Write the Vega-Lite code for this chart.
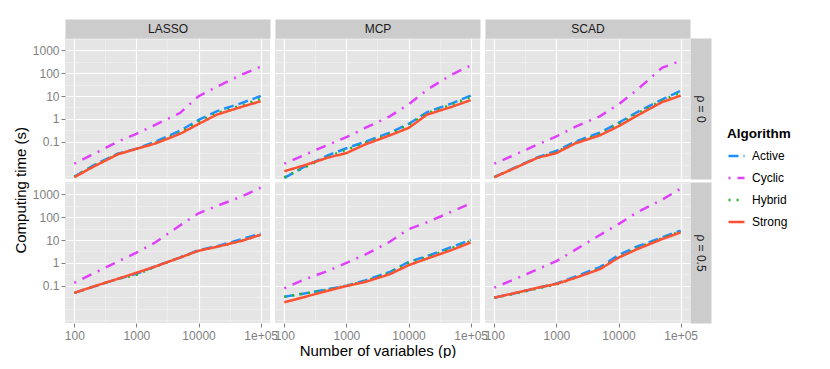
{
  "$schema": "https://vega.github.io/schema/vega-lite/v6.json",
  "padding": {"left": 14, "top": 22, "right": 0, "bottom": 0},
  "config": {
    "font": "Liberation Sans",
    "view": {"fill": "#E5E5E5", "stroke": null},
    "axis": {"labelFont": "Liberation Sans", "titleFont": "Liberation Sans"},
    "legend": {"labelFont": "Liberation Sans", "titleFont": "Liberation Sans"}
  },
  "title": {"text": "Computing time (s)", "orient": "left", "anchor": "middle", "fontSize": 15, "fontWeight": "normal", "color": "#000000", "offset": 3, "font": "Liberation Sans"},
  "datasets": {
    "d": [
      {"m":"LASSO","r":"0","a":"Active","p":100,"t":0.003},{"m":"LASSO","r":"0","a":"Active","p":200,"t":0.009},{"m":"LASSO","r":"0","a":"Active","p":500,"t":0.03},{"m":"LASSO","r":"0","a":"Active","p":1000,"t":0.05},{"m":"LASSO","r":"0","a":"Active","p":2000,"t":0.1},{"m":"LASSO","r":"0","a":"Active","p":5000,"t":0.3},{"m":"LASSO","r":"0","a":"Active","p":10000,"t":0.9},{"m":"LASSO","r":"0","a":"Active","p":20000,"t":2.2},{"m":"LASSO","r":"0","a":"Active","p":50000,"t":5},{"m":"LASSO","r":"0","a":"Active","p":100000,"t":10},
      {"m":"LASSO","r":"0","a":"Cyclic","p":100,"t":0.011},{"m":"LASSO","r":"0","a":"Cyclic","p":200,"t":0.028},{"m":"LASSO","r":"0","a":"Cyclic","p":500,"t":0.1},{"m":"LASSO","r":"0","a":"Cyclic","p":1000,"t":0.22},{"m":"LASSO","r":"0","a":"Cyclic","p":2000,"t":0.55},{"m":"LASSO","r":"0","a":"Cyclic","p":5000,"t":1.8},{"m":"LASSO","r":"0","a":"Cyclic","p":10000,"t":9.8},{"m":"LASSO","r":"0","a":"Cyclic","p":20000,"t":26},{"m":"LASSO","r":"0","a":"Cyclic","p":50000,"t":88},{"m":"LASSO","r":"0","a":"Cyclic","p":100000,"t":190},
      {"m":"LASSO","r":"0","a":"Hybrid","p":100,"t":0.0029},{"m":"LASSO","r":"0","a":"Hybrid","p":200,"t":0.0085},{"m":"LASSO","r":"0","a":"Hybrid","p":500,"t":0.029},{"m":"LASSO","r":"0","a":"Hybrid","p":1000,"t":0.048},{"m":"LASSO","r":"0","a":"Hybrid","p":2000,"t":0.09},{"m":"LASSO","r":"0","a":"Hybrid","p":5000,"t":0.25},{"m":"LASSO","r":"0","a":"Hybrid","p":10000,"t":0.75},{"m":"LASSO","r":"0","a":"Hybrid","p":20000,"t":1.8},{"m":"LASSO","r":"0","a":"Hybrid","p":50000,"t":4},{"m":"LASSO","r":"0","a":"Hybrid","p":100000,"t":7.5},
      {"m":"LASSO","r":"0","a":"Strong","p":100,"t":0.0028},{"m":"LASSO","r":"0","a":"Strong","p":200,"t":0.0079},{"m":"LASSO","r":"0","a":"Strong","p":500,"t":0.028},{"m":"LASSO","r":"0","a":"Strong","p":1000,"t":0.049},{"m":"LASSO","r":"0","a":"Strong","p":2000,"t":0.083},{"m":"LASSO","r":"0","a":"Strong","p":5000,"t":0.22},{"m":"LASSO","r":"0","a":"Strong","p":10000,"t":0.6},{"m":"LASSO","r":"0","a":"Strong","p":20000,"t":1.56},{"m":"LASSO","r":"0","a":"Strong","p":50000,"t":3.4},{"m":"LASSO","r":"0","a":"Strong","p":100000,"t":5.9},

      {"m":"MCP","r":"0","a":"Active","p":100,"t":0.0026},{"m":"MCP","r":"0","a":"Active","p":200,"t":0.0075},{"m":"MCP","r":"0","a":"Active","p":500,"t":0.025},{"m":"MCP","r":"0","a":"Active","p":1000,"t":0.052},{"m":"MCP","r":"0","a":"Active","p":2000,"t":0.1},{"m":"MCP","r":"0","a":"Active","p":5000,"t":0.25},{"m":"MCP","r":"0","a":"Active","p":10000,"t":0.6},{"m":"MCP","r":"0","a":"Active","p":20000,"t":2.0},{"m":"MCP","r":"0","a":"Active","p":50000,"t":4.8},{"m":"MCP","r":"0","a":"Active","p":100000,"t":10.5},
      {"m":"MCP","r":"0","a":"Cyclic","p":100,"t":0.011},{"m":"MCP","r":"0","a":"Cyclic","p":200,"t":0.025},{"m":"MCP","r":"0","a":"Cyclic","p":500,"t":0.073},{"m":"MCP","r":"0","a":"Cyclic","p":1000,"t":0.16},{"m":"MCP","r":"0","a":"Cyclic","p":2000,"t":0.4},{"m":"MCP","r":"0","a":"Cyclic","p":5000,"t":1.3},{"m":"MCP","r":"0","a":"Cyclic","p":10000,"t":4.3},{"m":"MCP","r":"0","a":"Cyclic","p":20000,"t":19},{"m":"MCP","r":"0","a":"Cyclic","p":50000,"t":88},{"m":"MCP","r":"0","a":"Cyclic","p":100000,"t":218},
      {"m":"MCP","r":"0","a":"Hybrid","p":100,"t":0.0028},{"m":"MCP","r":"0","a":"Hybrid","p":200,"t":0.007},{"m":"MCP","r":"0","a":"Hybrid","p":500,"t":0.022},{"m":"MCP","r":"0","a":"Hybrid","p":1000,"t":0.045},{"m":"MCP","r":"0","a":"Hybrid","p":2000,"t":0.09},{"m":"MCP","r":"0","a":"Hybrid","p":5000,"t":0.22},{"m":"MCP","r":"0","a":"Hybrid","p":10000,"t":0.55},{"m":"MCP","r":"0","a":"Hybrid","p":20000,"t":1.8},{"m":"MCP","r":"0","a":"Hybrid","p":50000,"t":4.3},{"m":"MCP","r":"0","a":"Hybrid","p":100000,"t":9},
      {"m":"MCP","r":"0","a":"Strong","p":100,"t":0.0051},{"m":"MCP","r":"0","a":"Strong","p":200,"t":0.0089},{"m":"MCP","r":"0","a":"Strong","p":500,"t":0.02},{"m":"MCP","r":"0","a":"Strong","p":1000,"t":0.032},{"m":"MCP","r":"0","a":"Strong","p":2000,"t":0.076},{"m":"MCP","r":"0","a":"Strong","p":5000,"t":0.19},{"m":"MCP","r":"0","a":"Strong","p":10000,"t":0.4},{"m":"MCP","r":"0","a":"Strong","p":20000,"t":1.55},{"m":"MCP","r":"0","a":"Strong","p":50000,"t":3.4},{"m":"MCP","r":"0","a":"Strong","p":100000,"t":6.6},

      {"m":"SCAD","r":"0","a":"Active","p":100,"t":0.0028},{"m":"SCAD","r":"0","a":"Active","p":200,"t":0.0068},{"m":"SCAD","r":"0","a":"Active","p":500,"t":0.021},{"m":"SCAD","r":"0","a":"Active","p":1000,"t":0.04},{"m":"SCAD","r":"0","a":"Active","p":2000,"t":0.1},{"m":"SCAD","r":"0","a":"Active","p":5000,"t":0.25},{"m":"SCAD","r":"0","a":"Active","p":10000,"t":0.67},{"m":"SCAD","r":"0","a":"Active","p":20000,"t":2.0},{"m":"SCAD","r":"0","a":"Active","p":50000,"t":7},{"m":"SCAD","r":"0","a":"Active","p":100000,"t":17},
      {"m":"SCAD","r":"0","a":"Cyclic","p":100,"t":0.011},{"m":"SCAD","r":"0","a":"Cyclic","p":200,"t":0.025},{"m":"SCAD","r":"0","a":"Cyclic","p":500,"t":0.076},{"m":"SCAD","r":"0","a":"Cyclic","p":1000,"t":0.17},{"m":"SCAD","r":"0","a":"Cyclic","p":2000,"t":0.45},{"m":"SCAD","r":"0","a":"Cyclic","p":5000,"t":1.3},{"m":"SCAD","r":"0","a":"Cyclic","p":10000,"t":4.3},{"m":"SCAD","r":"0","a":"Cyclic","p":20000,"t":19},{"m":"SCAD","r":"0","a":"Cyclic","p":50000,"t":170},{"m":"SCAD","r":"0","a":"Cyclic","p":100000,"t":350},
      {"m":"SCAD","r":"0","a":"Hybrid","p":100,"t":0.0028},{"m":"SCAD","r":"0","a":"Hybrid","p":200,"t":0.0066},{"m":"SCAD","r":"0","a":"Hybrid","p":500,"t":0.02},{"m":"SCAD","r":"0","a":"Hybrid","p":1000,"t":0.036},{"m":"SCAD","r":"0","a":"Hybrid","p":2000,"t":0.09},{"m":"SCAD","r":"0","a":"Hybrid","p":5000,"t":0.22},{"m":"SCAD","r":"0","a":"Hybrid","p":10000,"t":0.6},{"m":"SCAD","r":"0","a":"Hybrid","p":20000,"t":1.7},{"m":"SCAD","r":"0","a":"Hybrid","p":50000,"t":6.5},{"m":"SCAD","r":"0","a":"Hybrid","p":100000,"t":14},
      {"m":"SCAD","r":"0","a":"Strong","p":100,"t":0.0028},{"m":"SCAD","r":"0","a":"Strong","p":200,"t":0.0065},{"m":"SCAD","r":"0","a":"Strong","p":500,"t":0.02},{"m":"SCAD","r":"0","a":"Strong","p":1000,"t":0.032},{"m":"SCAD","r":"0","a":"Strong","p":2000,"t":0.084},{"m":"SCAD","r":"0","a":"Strong","p":5000,"t":0.19},{"m":"SCAD","r":"0","a":"Strong","p":10000,"t":0.48},{"m":"SCAD","r":"0","a":"Strong","p":20000,"t":1.4},{"m":"SCAD","r":"0","a":"Strong","p":50000,"t":5.4},{"m":"SCAD","r":"0","a":"Strong","p":100000,"t":10.5},

      {"m":"LASSO","r":"0.5","a":"Active","p":100,"t":0.049},{"m":"LASSO","r":"0.5","a":"Active","p":200,"t":0.09},{"m":"LASSO","r":"0.5","a":"Active","p":500,"t":0.2},{"m":"LASSO","r":"0.5","a":"Active","p":1000,"t":0.33},{"m":"LASSO","r":"0.5","a":"Active","p":2000,"t":0.7},{"m":"LASSO","r":"0.5","a":"Active","p":5000,"t":1.7},{"m":"LASSO","r":"0.5","a":"Active","p":10000,"t":3.6},{"m":"LASSO","r":"0.5","a":"Active","p":20000,"t":5.4},{"m":"LASSO","r":"0.5","a":"Active","p":50000,"t":11},{"m":"LASSO","r":"0.5","a":"Active","p":100000,"t":19},
      {"m":"LASSO","r":"0.5","a":"Cyclic","p":100,"t":0.135},{"m":"LASSO","r":"0.5","a":"Cyclic","p":200,"t":0.34},{"m":"LASSO","r":"0.5","a":"Cyclic","p":500,"t":1.14},{"m":"LASSO","r":"0.5","a":"Cyclic","p":1000,"t":2.8},{"m":"LASSO","r":"0.5","a":"Cyclic","p":2000,"t":7.8},{"m":"LASSO","r":"0.5","a":"Cyclic","p":5000,"t":43},{"m":"LASSO","r":"0.5","a":"Cyclic","p":10000,"t":148},{"m":"LASSO","r":"0.5","a":"Cyclic","p":20000,"t":315},{"m":"LASSO","r":"0.5","a":"Cyclic","p":50000,"t":810},{"m":"LASSO","r":"0.5","a":"Cyclic","p":100000,"t":1950},
      {"m":"LASSO","r":"0.5","a":"Hybrid","p":100,"t":0.049},{"m":"LASSO","r":"0.5","a":"Hybrid","p":200,"t":0.09},{"m":"LASSO","r":"0.5","a":"Hybrid","p":500,"t":0.2},{"m":"LASSO","r":"0.5","a":"Hybrid","p":1000,"t":0.3},{"m":"LASSO","r":"0.5","a":"Hybrid","p":2000,"t":0.68},{"m":"LASSO","r":"0.5","a":"Hybrid","p":5000,"t":1.7},{"m":"LASSO","r":"0.5","a":"Hybrid","p":10000,"t":3.4},{"m":"LASSO","r":"0.5","a":"Hybrid","p":20000,"t":5.1},{"m":"LASSO","r":"0.5","a":"Hybrid","p":50000,"t":9.5},{"m":"LASSO","r":"0.5","a":"Hybrid","p":100000,"t":17},
      {"m":"LASSO","r":"0.5","a":"Strong","p":100,"t":0.049},{"m":"LASSO","r":"0.5","a":"Strong","p":200,"t":0.091},{"m":"LASSO","r":"0.5","a":"Strong","p":500,"t":0.2},{"m":"LASSO","r":"0.5","a":"Strong","p":1000,"t":0.37},{"m":"LASSO","r":"0.5","a":"Strong","p":2000,"t":0.69},{"m":"LASSO","r":"0.5","a":"Strong","p":5000,"t":1.7},{"m":"LASSO","r":"0.5","a":"Strong","p":10000,"t":3.4},{"m":"LASSO","r":"0.5","a":"Strong","p":20000,"t":5.1},{"m":"LASSO","r":"0.5","a":"Strong","p":50000,"t":9.3},{"m":"LASSO","r":"0.5","a":"Strong","p":100000,"t":17},

      {"m":"MCP","r":"0.5","a":"Active","p":100,"t":0.033},{"m":"MCP","r":"0.5","a":"Active","p":200,"t":0.045},{"m":"MCP","r":"0.5","a":"Active","p":500,"t":0.07},{"m":"MCP","r":"0.5","a":"Active","p":1000,"t":0.1},{"m":"MCP","r":"0.5","a":"Active","p":2000,"t":0.17},{"m":"MCP","r":"0.5","a":"Active","p":5000,"t":0.4},{"m":"MCP","r":"0.5","a":"Active","p":10000,"t":1.1},{"m":"MCP","r":"0.5","a":"Active","p":20000,"t":2.0},{"m":"MCP","r":"0.5","a":"Active","p":50000,"t":5},{"m":"MCP","r":"0.5","a":"Active","p":100000,"t":10},
      {"m":"MCP","r":"0.5","a":"Cyclic","p":100,"t":0.077},{"m":"MCP","r":"0.5","a":"Cyclic","p":200,"t":0.18},{"m":"MCP","r":"0.5","a":"Cyclic","p":500,"t":0.44},{"m":"MCP","r":"0.5","a":"Cyclic","p":1000,"t":1.0},{"m":"MCP","r":"0.5","a":"Cyclic","p":2000,"t":2.3},{"m":"MCP","r":"0.5","a":"Cyclic","p":5000,"t":8.4},{"m":"MCP","r":"0.5","a":"Cyclic","p":10000,"t":30},{"m":"MCP","r":"0.5","a":"Cyclic","p":20000,"t":60},{"m":"MCP","r":"0.5","a":"Cyclic","p":50000,"t":177},{"m":"MCP","r":"0.5","a":"Cyclic","p":100000,"t":400},
      {"m":"MCP","r":"0.5","a":"Hybrid","p":100,"t":0.033},{"m":"MCP","r":"0.5","a":"Hybrid","p":200,"t":0.044},{"m":"MCP","r":"0.5","a":"Hybrid","p":500,"t":0.068},{"m":"MCP","r":"0.5","a":"Hybrid","p":1000,"t":0.1},{"m":"MCP","r":"0.5","a":"Hybrid","p":2000,"t":0.16},{"m":"MCP","r":"0.5","a":"Hybrid","p":5000,"t":0.38},{"m":"MCP","r":"0.5","a":"Hybrid","p":10000,"t":1.0},{"m":"MCP","r":"0.5","a":"Hybrid","p":20000,"t":1.8},{"m":"MCP","r":"0.5","a":"Hybrid","p":50000,"t":4.5},{"m":"MCP","r":"0.5","a":"Hybrid","p":100000,"t":9},
      {"m":"MCP","r":"0.5","a":"Strong","p":100,"t":0.019},{"m":"MCP","r":"0.5","a":"Strong","p":200,"t":0.031},{"m":"MCP","r":"0.5","a":"Strong","p":500,"t":0.06},{"m":"MCP","r":"0.5","a":"Strong","p":1000,"t":0.097},{"m":"MCP","r":"0.5","a":"Strong","p":2000,"t":0.146},{"m":"MCP","r":"0.5","a":"Strong","p":5000,"t":0.32},{"m":"MCP","r":"0.5","a":"Strong","p":10000,"t":0.79},{"m":"MCP","r":"0.5","a":"Strong","p":20000,"t":1.55},{"m":"MCP","r":"0.5","a":"Strong","p":50000,"t":3.7},{"m":"MCP","r":"0.5","a":"Strong","p":100000,"t":7.8},

      {"m":"SCAD","r":"0.5","a":"Active","p":100,"t":0.03},{"m":"SCAD","r":"0.5","a":"Active","p":200,"t":0.045},{"m":"SCAD","r":"0.5","a":"Active","p":500,"t":0.08},{"m":"SCAD","r":"0.5","a":"Active","p":1000,"t":0.125},{"m":"SCAD","r":"0.5","a":"Active","p":2000,"t":0.25},{"m":"SCAD","r":"0.5","a":"Active","p":5000,"t":0.65},{"m":"SCAD","r":"0.5","a":"Active","p":10000,"t":2.2},{"m":"SCAD","r":"0.5","a":"Active","p":20000,"t":5.2},{"m":"SCAD","r":"0.5","a":"Active","p":50000,"t":13},{"m":"SCAD","r":"0.5","a":"Active","p":100000,"t":26},
      {"m":"SCAD","r":"0.5","a":"Cyclic","p":100,"t":0.082},{"m":"SCAD","r":"0.5","a":"Cyclic","p":200,"t":0.18},{"m":"SCAD","r":"0.5","a":"Cyclic","p":500,"t":0.53},{"m":"SCAD","r":"0.5","a":"Cyclic","p":1000,"t":1.2},{"m":"SCAD","r":"0.5","a":"Cyclic","p":2000,"t":3.7},{"m":"SCAD","r":"0.5","a":"Cyclic","p":5000,"t":16.6},{"m":"SCAD","r":"0.5","a":"Cyclic","p":10000,"t":50},{"m":"SCAD","r":"0.5","a":"Cyclic","p":20000,"t":164},{"m":"SCAD","r":"0.5","a":"Cyclic","p":50000,"t":580},{"m":"SCAD","r":"0.5","a":"Cyclic","p":100000,"t":1780},
      {"m":"SCAD","r":"0.5","a":"Hybrid","p":100,"t":0.03},{"m":"SCAD","r":"0.5","a":"Hybrid","p":200,"t":0.043},{"m":"SCAD","r":"0.5","a":"Hybrid","p":500,"t":0.075},{"m":"SCAD","r":"0.5","a":"Hybrid","p":1000,"t":0.115},{"m":"SCAD","r":"0.5","a":"Hybrid","p":2000,"t":0.22},{"m":"SCAD","r":"0.5","a":"Hybrid","p":5000,"t":0.55},{"m":"SCAD","r":"0.5","a":"Hybrid","p":10000,"t":1.8},{"m":"SCAD","r":"0.5","a":"Hybrid","p":20000,"t":4.5},{"m":"SCAD","r":"0.5","a":"Hybrid","p":50000,"t":12},{"m":"SCAD","r":"0.5","a":"Hybrid","p":100000,"t":24},
      {"m":"SCAD","r":"0.5","a":"Strong","p":100,"t":0.03},{"m":"SCAD","r":"0.5","a":"Strong","p":200,"t":0.046},{"m":"SCAD","r":"0.5","a":"Strong","p":500,"t":0.082},{"m":"SCAD","r":"0.5","a":"Strong","p":1000,"t":0.12},{"m":"SCAD","r":"0.5","a":"Strong","p":2000,"t":0.22},{"m":"SCAD","r":"0.5","a":"Strong","p":5000,"t":0.53},{"m":"SCAD","r":"0.5","a":"Strong","p":10000,"t":1.7},{"m":"SCAD","r":"0.5","a":"Strong","p":20000,"t":4},{"m":"SCAD","r":"0.5","a":"Strong","p":50000,"t":11},{"m":"SCAD","r":"0.5","a":"Strong","p":100000,"t":21.6}
    ]
  },
  "columns": 3,
  "spacing": {"row": 3, "column": 5},
  "bounds": "flush",
  "concat": [
    {
      "width": 205, "height": 141, "data": {"name": "d"},
      "transform": [{"filter": "datum.m == 'LASSO' && datum.r == '0'"}],
      "mark": {"type": "line", "strokeWidth": 2.5, "clip": true, "strokeCap": "butt"},
      "encoding": {
        "x": {"field": "p", "type": "quantitative", "scale": {"type": "log", "domain": [70.8, 141254], "nice": false},
          "axis": {"orient": "top", "values": [100, 316.228, 1000, 3162.28, 10000, 31622.8, 100000], "grid": true,
            "gridColor": {"condition": {"test": "datum.value==100||datum.value==1000||datum.value==10000||datum.value==100000", "value": "#FFFFFF"}, "value": "#F2F2F2"},
            "gridWidth": {"condition": {"test": "datum.value==100||datum.value==1000||datum.value==10000||datum.value==100000", "value": 1.2}, "value": 0.6},
            "labels": false, "ticks": false, "tickSize": 0, "domain": true, "domainColor": "#CCCCCC", "domainWidth": 19, "domainCap": "butt", "offset": 9.5,
            "title": "LASSO", "titleFontSize": 12, "titleFontWeight": "normal", "titleColor": "#1A1A1A", "titleBaseline": "middle", "titlePadding": 0, "minExtent": 0, "maxExtent": 0}},
        "y": {"field": "t", "type": "quantitative", "scale": {"type": "log", "domain": [0.00234, 3470], "nice": false},
          "axis": {"orient": "left", "values": [0.00316, 0.01, 0.0316, 0.1, 0.316, 1, 3.16, 10, 31.6, 100, 316, 1000, 3162], "grid": true,
            "gridColor": {"condition": {"test": "datum.value==0.1||datum.value==1||datum.value==10||datum.value==100||datum.value==1000", "value": "#FFFFFF"}, "value": "#F2F2F2"},
            "gridWidth": {"condition": {"test": "datum.value==0.1||datum.value==1||datum.value==10||datum.value==100||datum.value==1000", "value": 1.2}, "value": 0.6},
            "domain": false, "ticks": true, "tickSize": 4,
            "tickColor": {"condition": {"test": "datum.value==0.1||datum.value==1||datum.value==10||datum.value==100||datum.value==1000", "value": "#7F7F7F"}, "value": "rgba(0,0,0,0)"},
            "labelExpr": "(datum.value==0.1||datum.value==1||datum.value==10||datum.value==100||datum.value==1000) ? format(datum.value, '~g') : ''",
            "labelColor": "#7F7F7F", "labelFontSize": 12, "labelPadding": 2, "labelFlush": false, "labelOverlap": false, "title": null}},
        "color": {"field": "a", "type": "nominal", "scale": {"domain": ["Active", "Cyclic", "Hybrid", "Strong"], "range": ["#1E90FF", "#E040FB", "#22B422", "#FF5233"]},
          "legend": {"title": "Algorithm", "orient": "none", "legendX": 662, "legendY": 89, "padding": 0, "titleFontSize": 13.5, "titleFontWeight": "bold", "titleColor": "#000000", "labelFontSize": 12, "labelColor": "#000000", "symbolType": "stroke", "symbolStrokeWidth": 2.5, "symbolSize": 256, "rowPadding": 6, "titlePadding": 6, "labelOffset": 6}},
        "strokeDash": {"field": "a", "type": "nominal", "scale": {"domain": ["Active", "Cyclic", "Hybrid", "Strong"], "range": [[10, 5], [2, 7, 10, 7], [2, 6], [1, 0]]},
          "legend": {"title": "Algorithm", "orient": "none", "legendX": 662, "legendY": 89, "padding": 0, "titleFontSize": 13.5, "titleFontWeight": "bold", "titleColor": "#000000", "labelFontSize": 12, "labelColor": "#000000", "symbolType": "stroke", "symbolStrokeWidth": 2.5, "symbolSize": 256, "rowPadding": 6, "titlePadding": 6, "labelOffset": 6}}
      }
    },
    {
      "width": 205, "height": 141, "data": {"name": "d"},
      "transform": [{"filter": "datum.m == 'MCP' && datum.r == '0'"}],
      "mark": {"type": "line", "strokeWidth": 2.5, "clip": true, "strokeCap": "butt"},
      "encoding": {
        "x": {"field": "p", "type": "quantitative", "scale": {"type": "log", "domain": [70.8, 141254], "nice": false},
          "axis": {"orient": "top", "values": [100, 316.228, 1000, 3162.28, 10000, 31622.8, 100000], "grid": true,
            "gridColor": {"condition": {"test": "datum.value==100||datum.value==1000||datum.value==10000||datum.value==100000", "value": "#FFFFFF"}, "value": "#F2F2F2"},
            "gridWidth": {"condition": {"test": "datum.value==100||datum.value==1000||datum.value==10000||datum.value==100000", "value": 1.2}, "value": 0.6},
            "labels": false, "ticks": false, "tickSize": 0, "domain": true, "domainColor": "#CCCCCC", "domainWidth": 19, "domainCap": "butt", "offset": 9.5,
            "title": "MCP", "titleFontSize": 12, "titleFontWeight": "normal", "titleColor": "#1A1A1A", "titleBaseline": "middle", "titlePadding": 0, "minExtent": 0, "maxExtent": 0}},
        "y": {"field": "t", "type": "quantitative", "scale": {"type": "log", "domain": [0.00234, 3470], "nice": false},
          "axis": {"orient": "left", "values": [0.00316, 0.01, 0.0316, 0.1, 0.316, 1, 3.16, 10, 31.6, 100, 316, 1000, 3162], "grid": true,
            "gridColor": {"condition": {"test": "datum.value==0.1||datum.value==1||datum.value==10||datum.value==100||datum.value==1000", "value": "#FFFFFF"}, "value": "#F2F2F2"},
            "gridWidth": {"condition": {"test": "datum.value==0.1||datum.value==1||datum.value==10||datum.value==100||datum.value==1000", "value": 1.2}, "value": 0.6},
            "domain": false, "ticks": false, "labels": false, "title": null}},
        "color": {"field": "a", "type": "nominal", "scale": {"domain": ["Active", "Cyclic", "Hybrid", "Strong"], "range": ["#1E90FF", "#E040FB", "#22B422", "#FF5233"]}},
        "strokeDash": {"field": "a", "type": "nominal", "scale": {"domain": ["Active", "Cyclic", "Hybrid", "Strong"], "range": [[10, 5], [2, 7, 10, 7], [2, 6], [1, 0]]}}
      }
    },
    {
      "width": 205, "height": 141, "data": {"name": "d"},
      "transform": [{"filter": "datum.m == 'SCAD' && datum.r == '0'"}],
      "mark": {"type": "line", "strokeWidth": 2.5, "clip": true, "strokeCap": "butt"},
      "encoding": {
        "x": {"field": "p", "type": "quantitative", "scale": {"type": "log", "domain": [70.8, 141254], "nice": false},
          "axis": {"orient": "top", "values": [100, 316.228, 1000, 3162.28, 10000, 31622.8, 100000], "grid": true,
            "gridColor": {"condition": {"test": "datum.value==100||datum.value==1000||datum.value==10000||datum.value==100000", "value": "#FFFFFF"}, "value": "#F2F2F2"},
            "gridWidth": {"condition": {"test": "datum.value==100||datum.value==1000||datum.value==10000||datum.value==100000", "value": 1.2}, "value": 0.6},
            "labels": false, "ticks": false, "tickSize": 0, "domain": true, "domainColor": "#CCCCCC", "domainWidth": 19, "domainCap": "butt", "offset": 9.5,
            "title": "SCAD", "titleFontSize": 12, "titleFontWeight": "normal", "titleColor": "#1A1A1A", "titleBaseline": "middle", "titlePadding": 0, "minExtent": 0, "maxExtent": 0}},
        "y": {"field": "t", "type": "quantitative", "scale": {"type": "log", "domain": [0.00234, 3470], "nice": false},
          "axis": {"orient": "right", "values": [0.00316, 0.01, 0.0316, 0.1, 0.316, 1, 3.16, 10, 31.6, 100, 316, 1000, 3162], "grid": true,
            "gridColor": {"condition": {"test": "datum.value==0.1||datum.value==1||datum.value==10||datum.value==100||datum.value==1000", "value": "#FFFFFF"}, "value": "#F2F2F2"},
            "gridWidth": {"condition": {"test": "datum.value==0.1||datum.value==1||datum.value==10||datum.value==100||datum.value==1000", "value": 1.2}, "value": 0.6},
            "labels": false, "ticks": false, "tickSize": 0, "domain": true, "domainColor": "#CCCCCC", "domainWidth": 21, "domainCap": "butt", "offset": 10.5,
            "title": "ρ = 0", "titleAngle": 90, "titleFontSize": 12, "titleFontWeight": "normal", "titleColor": "#1A1A1A", "titleBaseline": "middle", "titlePadding": 0, "minExtent": 0, "maxExtent": 0}},
        "color": {"field": "a", "type": "nominal", "scale": {"domain": ["Active", "Cyclic", "Hybrid", "Strong"], "range": ["#1E90FF", "#E040FB", "#22B422", "#FF5233"]}},
        "strokeDash": {"field": "a", "type": "nominal", "scale": {"domain": ["Active", "Cyclic", "Hybrid", "Strong"], "range": [[10, 5], [2, 7, 10, 7], [2, 6], [1, 0]]}}
      }
    },
    {
      "width": 205, "height": 141, "data": {"name": "d"},
      "transform": [{"filter": "datum.m == 'LASSO' && datum.r == '0.5'"}],
      "mark": {"type": "line", "strokeWidth": 2.5, "clip": true, "strokeCap": "butt"},
      "encoding": {
        "x": {"field": "p", "type": "quantitative", "scale": {"type": "log", "domain": [70.8, 141254], "nice": false},
          "axis": {"orient": "bottom", "values": [100, 316.228, 1000, 3162.28, 10000, 31622.8, 100000], "grid": true,
            "gridColor": {"condition": {"test": "datum.value==100||datum.value==1000||datum.value==10000||datum.value==100000", "value": "#FFFFFF"}, "value": "#F2F2F2"},
            "gridWidth": {"condition": {"test": "datum.value==100||datum.value==1000||datum.value==10000||datum.value==100000", "value": 1.2}, "value": 0.6},
            "domain": false, "ticks": true, "tickSize": 4,
            "tickColor": {"condition": {"test": "datum.value==100||datum.value==1000||datum.value==10000||datum.value==100000", "value": "#7F7F7F"}, "value": "rgba(0,0,0,0)"},
            "labelExpr": "datum.value==100000 ? '1e+05' : ((datum.value==100||datum.value==1000||datum.value==10000) ? format(datum.value, 'd') : '')",
            "labelColor": "#7F7F7F", "labelFontSize": 12, "labelPadding": 3, "labelFlush": false, "labelOverlap": false, "title": null}},
        "y": {"field": "t", "type": "quantitative", "scale": {"type": "log", "domain": [0.00234, 3470], "nice": false},
          "axis": {"orient": "left", "values": [0.00316, 0.01, 0.0316, 0.1, 0.316, 1, 3.16, 10, 31.6, 100, 316, 1000, 3162], "grid": true,
            "gridColor": {"condition": {"test": "datum.value==0.1||datum.value==1||datum.value==10||datum.value==100||datum.value==1000", "value": "#FFFFFF"}, "value": "#F2F2F2"},
            "gridWidth": {"condition": {"test": "datum.value==0.1||datum.value==1||datum.value==10||datum.value==100||datum.value==1000", "value": 1.2}, "value": 0.6},
            "domain": false, "ticks": true, "tickSize": 4,
            "tickColor": {"condition": {"test": "datum.value==0.1||datum.value==1||datum.value==10||datum.value==100||datum.value==1000", "value": "#7F7F7F"}, "value": "rgba(0,0,0,0)"},
            "labelExpr": "(datum.value==0.1||datum.value==1||datum.value==10||datum.value==100||datum.value==1000) ? format(datum.value, '~g') : ''",
            "labelColor": "#7F7F7F", "labelFontSize": 12, "labelPadding": 2, "labelFlush": false, "labelOverlap": false, "title": null}},
        "color": {"field": "a", "type": "nominal", "scale": {"domain": ["Active", "Cyclic", "Hybrid", "Strong"], "range": ["#1E90FF", "#E040FB", "#22B422", "#FF5233"]}},
        "strokeDash": {"field": "a", "type": "nominal", "scale": {"domain": ["Active", "Cyclic", "Hybrid", "Strong"], "range": [[10, 5], [2, 7, 10, 7], [2, 6], [1, 0]]}}
      }
    },
    {
      "width": 205, "height": 141, "data": {"name": "d"},
      "transform": [{"filter": "datum.m == 'MCP' && datum.r == '0.5'"}],
      "mark": {"type": "line", "strokeWidth": 2.5, "clip": true, "strokeCap": "butt"},
      "encoding": {
        "x": {"field": "p", "type": "quantitative", "scale": {"type": "log", "domain": [70.8, 141254], "nice": false},
          "axis": {"orient": "bottom", "values": [100, 316.228, 1000, 3162.28, 10000, 31622.8, 100000], "grid": true,
            "gridColor": {"condition": {"test": "datum.value==100||datum.value==1000||datum.value==10000||datum.value==100000", "value": "#FFFFFF"}, "value": "#F2F2F2"},
            "gridWidth": {"condition": {"test": "datum.value==100||datum.value==1000||datum.value==10000||datum.value==100000", "value": 1.2}, "value": 0.6},
            "domain": false, "ticks": true, "tickSize": 4,
            "tickColor": {"condition": {"test": "datum.value==100||datum.value==1000||datum.value==10000||datum.value==100000", "value": "#7F7F7F"}, "value": "rgba(0,0,0,0)"},
            "labelExpr": "datum.value==100000 ? '1e+05' : ((datum.value==100||datum.value==1000||datum.value==10000) ? format(datum.value, 'd') : '')",
            "labelColor": "#7F7F7F", "labelFontSize": 12, "labelPadding": 3, "labelFlush": false, "labelOverlap": false,
            "title": "Number of variables (p)", "titleFontSize": 15, "titleFontWeight": "normal", "titleColor": "#000000", "titlePadding": 2}},
        "y": {"field": "t", "type": "quantitative", "scale": {"type": "log", "domain": [0.00234, 3470], "nice": false},
          "axis": {"orient": "left", "values": [0.00316, 0.01, 0.0316, 0.1, 0.316, 1, 3.16, 10, 31.6, 100, 316, 1000, 3162], "grid": true,
            "gridColor": {"condition": {"test": "datum.value==0.1||datum.value==1||datum.value==10||datum.value==100||datum.value==1000", "value": "#FFFFFF"}, "value": "#F2F2F2"},
            "gridWidth": {"condition": {"test": "datum.value==0.1||datum.value==1||datum.value==10||datum.value==100||datum.value==1000", "value": 1.2}, "value": 0.6},
            "domain": false, "ticks": false, "labels": false, "title": null}},
        "color": {"field": "a", "type": "nominal", "scale": {"domain": ["Active", "Cyclic", "Hybrid", "Strong"], "range": ["#1E90FF", "#E040FB", "#22B422", "#FF5233"]}},
        "strokeDash": {"field": "a", "type": "nominal", "scale": {"domain": ["Active", "Cyclic", "Hybrid", "Strong"], "range": [[10, 5], [2, 7, 10, 7], [2, 6], [1, 0]]}}
      }
    },
    {
      "width": 205, "height": 141, "data": {"name": "d"},
      "transform": [{"filter": "datum.m == 'SCAD' && datum.r == '0.5'"}],
      "mark": {"type": "line", "strokeWidth": 2.5, "clip": true, "strokeCap": "butt"},
      "encoding": {
        "x": {"field": "p", "type": "quantitative", "scale": {"type": "log", "domain": [70.8, 141254], "nice": false},
          "axis": {"orient": "bottom", "values": [100, 316.228, 1000, 3162.28, 10000, 31622.8, 100000], "grid": true,
            "gridColor": {"condition": {"test": "datum.value==100||datum.value==1000||datum.value==10000||datum.value==100000", "value": "#FFFFFF"}, "value": "#F2F2F2"},
            "gridWidth": {"condition": {"test": "datum.value==100||datum.value==1000||datum.value==10000||datum.value==100000", "value": 1.2}, "value": 0.6},
            "domain": false, "ticks": true, "tickSize": 4,
            "tickColor": {"condition": {"test": "datum.value==100||datum.value==1000||datum.value==10000||datum.value==100000", "value": "#7F7F7F"}, "value": "rgba(0,0,0,0)"},
            "labelExpr": "datum.value==100000 ? '1e+05' : ((datum.value==100||datum.value==1000||datum.value==10000) ? format(datum.value, 'd') : '')",
            "labelColor": "#7F7F7F", "labelFontSize": 12, "labelPadding": 3, "labelFlush": false, "labelOverlap": false, "title": null}},
        "y": {"field": "t", "type": "quantitative", "scale": {"type": "log", "domain": [0.00234, 3470], "nice": false},
          "axis": {"orient": "right", "values": [0.00316, 0.01, 0.0316, 0.1, 0.316, 1, 3.16, 10, 31.6, 100, 316, 1000, 3162], "grid": true,
            "gridColor": {"condition": {"test": "datum.value==0.1||datum.value==1||datum.value==10||datum.value==100||datum.value==1000", "value": "#FFFFFF"}, "value": "#F2F2F2"},
            "gridWidth": {"condition": {"test": "datum.value==0.1||datum.value==1||datum.value==10||datum.value==100||datum.value==1000", "value": 1.2}, "value": 0.6},
            "labels": false, "ticks": false, "tickSize": 0, "domain": true, "domainColor": "#CCCCCC", "domainWidth": 21, "domainCap": "butt", "offset": 10.5,
            "title": "ρ = 0.5", "titleAngle": 90, "titleFontSize": 12, "titleFontWeight": "normal", "titleColor": "#1A1A1A", "titleBaseline": "middle", "titlePadding": 0, "minExtent": 0, "maxExtent": 0}},
        "color": {"field": "a", "type": "nominal", "scale": {"domain": ["Active", "Cyclic", "Hybrid", "Strong"], "range": ["#1E90FF", "#E040FB", "#22B422", "#FF5233"]}},
        "strokeDash": {"field": "a", "type": "nominal", "scale": {"domain": ["Active", "Cyclic", "Hybrid", "Strong"], "range": [[10, 5], [2, 7, 10, 7], [2, 6], [1, 0]]}}
      }
    }
  ]
}
